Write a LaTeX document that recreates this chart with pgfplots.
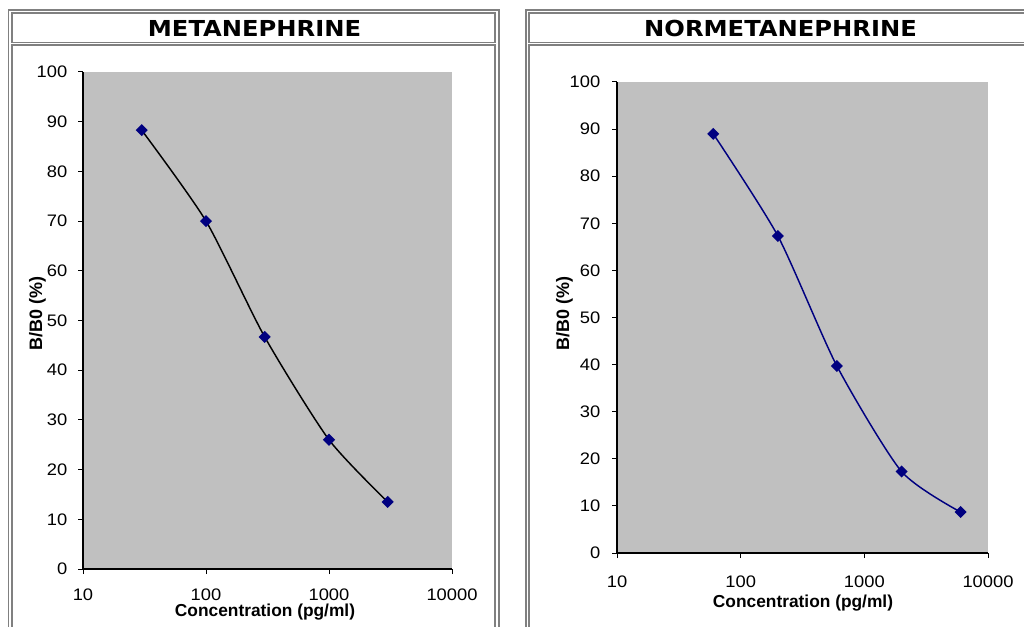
\documentclass[border=0pt]{standalone}
\usepackage{fontspec}
\setmainfont{Liberation Sans}
\newfontfamily\tickfont{Liberation Sans}[FakeStretch=1.1]
\newfontfamily\titlefont{DejaVu Sans}[FakeStretch=1.1]
\usepackage{pgfplots}
\pgfplotsset{compat=1.18}
\definecolor{bg}{RGB}{192,192,192}
\definecolor{framegray}{RGB}{128,128,128}
\definecolor{navy}{RGB}{0,0,128}
\begin{document}
\begin{tikzpicture}
\clip (0,0) rectangle (768pt,-470.25pt);
\begin{scope}[x=0.75pt, y=-0.75pt, framegray, line width=1.2pt]
  \draw (8.3,10) rectangle (499,700);
  \draw (11.7,13) rectangle (495,42.5);
  \draw (11.7,45.2) rectangle (495,700);
  \draw (526,9.8) rectangle (1100,700);
  \draw (528.8,13.2) rectangle (1100,42.5);
  \draw (528.8,45.2) rectangle (1100,700);
\end{scope}
\begin{scope}[x=0.75pt, y=-0.75pt]
  \node[anchor=base, inner sep=0pt, font=\titlefont\bfseries\fontsize{16.5}{20}\selectfont] at (254.5,36.7) {METANEPHRINE};
  \node[anchor=base, inner sep=0pt, font=\titlefont\bfseries\fontsize{16.5}{20}\selectfont] at (780.5,36.7) {NORMETANEPHRINE};
  \node[anchor=base, inner sep=0pt, font=\bfseries\fontsize{13}{15}\selectfont] at (265,616) {Concentration (pg/ml)};
  \node[anchor=base, inner sep=0pt, font=\bfseries\fontsize{13}{15}\selectfont] at (803,607.5) {Concentration (pg/ml)};
  \node[anchor=base, rotate=90, inner sep=0pt, font=\bfseries\fontsize{13.5}{15}\selectfont] at (42,313.5) {B/B0 (\%)};
  \node[anchor=base, rotate=90, inner sep=0pt, font=\bfseries\fontsize{13.5}{15}\selectfont] at (569,313) {B/B0 (\%)};
\end{scope}
\begin{axis}[at={(62.25pt,-426.75pt)}, anchor=south west,
  scale only axis, width=276.75pt, height=372.75pt,
  xmode=log, xmin=10, xmax=10000, ymin=0, ymax=100,
  xtick={10,100,1000,10000}, xticklabels={10,100,1000,10000},
  ytick={0,10,20,30,40,50,60,70,80,90,100},
  yticklabels={0,10,20,30,40,50,60,70,80,90,100},
  xminorticks=false, yminorticks=false,
  axis x line*=bottom, axis y line*=left,
  axis line style={-, black, line width=0.9pt},
  tick align=outside, major tick length=3.75pt,
  tick style={black, line width=0.75pt},
  ticklabel style={font=\tickfont\fontsize{12.5}{14}\selectfont},
  yticklabel style={xshift=-4.5pt},
  xticklabel style={yshift=-7.5pt},
  axis background/.style={fill=bg},
  clip=false]
  \addplot[black, line width=1.1pt, smooth, tension=0.4, mark=square*, mark size=2.65pt,
    mark options={fill=navy, draw=navy, rotate=45, solid}] coordinates {
    (30,88.3) (100,70.0) (300,46.7) (1000,26.0) (3000,13.5)};
\end{axis}
\begin{axis}[at={(462.75pt,-414.75pt)}, anchor=south west,
  scale only axis, width=278.25pt, height=353.25pt,
  xmode=log, xmin=10, xmax=10000, ymin=0, ymax=100,
  xtick={10,100,1000,10000}, xticklabels={10,100,1000,10000},
  ytick={0,10,20,30,40,50,60,70,80,90,100},
  yticklabels={0,10,20,30,40,50,60,70,80,90,100},
  xminorticks=false, yminorticks=false,
  axis x line*=bottom, axis y line*=left,
  axis line style={-, black, line width=0.9pt},
  tick align=outside, major tick length=3.75pt,
  tick style={black, line width=0.75pt},
  ticklabel style={font=\tickfont\fontsize{12.5}{14}\selectfont},
  yticklabel style={xshift=-5.25pt},
  xticklabel style={yshift=-9.75pt},
  axis background/.style={fill=bg},
  clip=false]
  \addplot[navy, line width=1.1pt, smooth, tension=0.4, mark=square*, mark size=2.65pt,
    mark options={fill=navy, draw=navy, rotate=45, solid}] coordinates {
    (60,89.0) (200,67.3) (600,39.7) (2000,17.3) (6000,8.7)};
\end{axis}
\end{tikzpicture}
\end{document}
